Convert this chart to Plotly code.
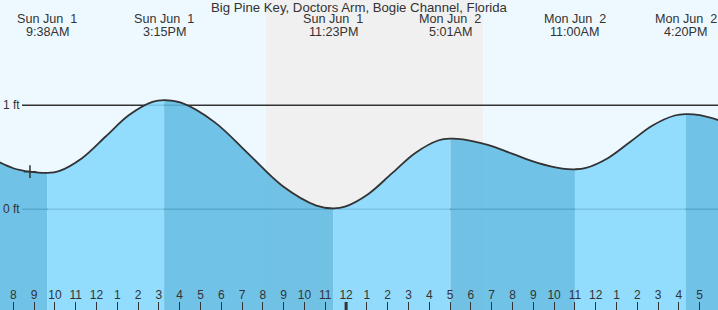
import plotly.graph_objects as go

# ---------------- data ----------------
title_text = "Big Pine Key, Doctors Arm, Bogie Channel, Florida"

# hours since midnight Sun Jun 1, tide height in feet
hours = [7.30, 8.00, 8.80, 9.633,
         10.195, 11.318, 12.442, 13.565, 14.688, 15.25,
         16.063, 17.69, 19.317, 20.943, 22.57, 23.383,
         23.946, 25.073, 26.20, 27.327, 28.454, 29.017,
         29.615, 30.812, 32.009, 33.205, 34.402, 35.0,
         35.533, 36.60, 37.667, 38.733, 39.80, 40.333,
         41.01, 41.95]
heights = [0.455, 0.395, 0.362, 0.35,
           0.367, 0.494, 0.70, 0.906, 1.033, 1.05,
           1.025, 0.836, 0.53, 0.224, 0.036, 0.01,
           0.026, 0.148, 0.345, 0.542, 0.664, 0.68,
           0.673, 0.619, 0.533, 0.446, 0.392, 0.385,
           0.398, 0.494, 0.65, 0.806, 0.902, 0.915,
           0.905, 0.855]

# extremes (high / low tides)
event_hours = [9.633, 15.25, 23.383, 29.017, 35.0, 40.333]
event_days = ["Sun Jun  1", "Sun Jun  1", "Sun Jun  1", "Mon Jun  2", "Mon Jun  2", "Mon Jun  2"]
event_times = ["9:38AM", "3:15PM", "11:23PM", "5:01AM", "11:00AM", "4:20PM"]

now_hour = 8.80
now_height = 0.362

sunset_hour = 20.15
sunrise_hour = 30.58

tick_hours = list(range(8, 42))
tick_labels = ["8", "9", "10", "11", "12", "1", "2", "3", "4", "5", "6", "7", "8", "9", "10", "11",
               "12", "1", "2", "3", "4", "5", "6", "7", "8", "9", "10", "11",
               "12", "1", "2", "3", "4", "5"]

level_lines = [1, 0]
level_labels = ["1 ft", "0 ft"]

x_range = [7.36, 41.88]
y_range = [-0.968, 2.0125]

# ---------------- styles ----------------
SKY = "#eef8ff"
NIGHT = "#f0f0f0"
WATER_RISE = "rgba(133,215,253,0.88)"
WATER_FALL = "rgba(95,186,226,0.88)"
TXT = "#333333"
FONT = "Liberation Sans, Arial, sans-serif"

fig = go.Figure()

# rising / falling water fills between consecutive extremes
bounds = [hours[0]] + event_hours + [hours[-1]]
for i in range(len(bounds) - 1):
    a, b = bounds[i], bounds[i + 1]
    idx = [k for k, h in enumerate(hours) if a - 1e-9 <= h <= b + 1e-9]
    xs = [hours[k] for k in idx]
    ys = [heights[k] for k in idx]
    rising = ys[-1] > ys[0]
    fig.add_trace(go.Scatter(x=[xs[0], xs[-1]], y=[y_range[0] - 0.5] * 2, mode="lines",
                             line=dict(width=0), hoverinfo="skip", showlegend=False))
    fig.add_trace(go.Scatter(x=xs, y=ys, mode="lines", fill="tonexty",
                             fillcolor=WATER_RISE if rising else WATER_FALL,
                             line=dict(width=0, shape="spline"),
                             hoverinfo="skip", showlegend=False))

# tide curve
fig.add_trace(go.Scatter(x=hours, y=heights, mode="lines",
                         line=dict(color=TXT, width=1.8, shape="spline"),
                         hoverinfo="skip", showlegend=False))

# current-time marker
fig.add_trace(go.Scatter(x=[now_hour], y=[now_height], mode="markers",
                         marker=dict(symbol="cross-thin", size=9, line=dict(color=TXT, width=1.5)),
                         hoverinfo="skip", showlegend=False))

shapes = [dict(type="rect", xref="x", yref="paper", x0=sunset_hour, x1=sunrise_hour, y0=0, y1=1,
               fillcolor=NIGHT, line=dict(width=0), layer="below")]
for lv in level_lines:
    shapes.append(dict(type="line", xref="paper", yref="y", x0=22 / 718, x1=1, y0=lv, y1=lv,
                       line=dict(color=TXT, width=1.5), layer="below"))
# midnight tick emphasised
shapes.append(dict(type="line", xref="x", yref="paper", x0=24, x1=24, y0=0, y1=8 / 310,
                   line=dict(color=TXT, width=3), layer="above"))

annotations = [dict(text=title_text, xref="paper", yref="paper", x=0.5, y=1 - 8 / 310,
                    xanchor="center", yanchor="middle", showarrow=False,
                    font=dict(size=13.2, color=TXT, family=FONT))]
for h, d, t in zip(event_hours, event_days, event_times):
    annotations.append(dict(text=d, xref="x", yref="paper", x=h, y=1 - 19.5 / 310,
                            xanchor="center", yanchor="middle", showarrow=False,
                            font=dict(size=12.6, color=TXT, family=FONT)))
    annotations.append(dict(text=t, xref="x", yref="paper", x=h, y=1 - 32 / 310,
                            xanchor="center", yanchor="middle", showarrow=False,
                            font=dict(size=12.6, color=TXT, family=FONT)))
for lv, lab in zip(level_lines, level_labels):
    annotations.append(dict(text=lab, xref="paper", yref="y", x=0, y=lv, xshift=1,
                            xanchor="left", yanchor="middle", showarrow=False,
                            font=dict(size=12, color=TXT, family=FONT)))

fig.update_layout(
    width=718, height=310,
    margin=dict(l=0, r=0, t=0, b=0),
    paper_bgcolor=SKY, plot_bgcolor=SKY,
    shapes=shapes, annotations=annotations,
    showlegend=False,
    xaxis=dict(range=x_range, showgrid=False, zeroline=False, showline=False,
               tickmode="array", tickvals=tick_hours, ticktext=tick_labels,
               ticks="inside", ticklen=8, tickwidth=1, tickcolor=TXT,
               ticklabelposition="inside", tickfont=dict(size=12, color=TXT, family=FONT),
               fixedrange=True),
    yaxis=dict(range=y_range, visible=False, fixedrange=True),
)

fig.write_html("out.html")
